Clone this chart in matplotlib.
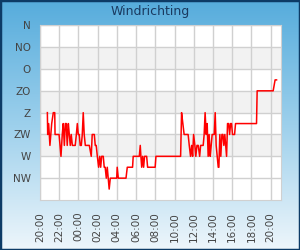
import matplotlib
matplotlib.use('Agg')
import matplotlib.pyplot as plt
import numpy as np
from matplotlib.colors import LinearSegmentedColormap
from matplotlib.patches import Rectangle


# minutes after 20:00 and wind direction level (NW=1 ... N=8)
minutes = [46, 48, 54, 62, 73, 83, 92, 94, 119, 131, 139, 145, 152, 158, 164, 170,
           177, 183, 189, 195, 202, 220, 227, 233, 239, 245, 251, 258, 264, 270, 276, 283,
           308, 320, 326, 339, 345, 351, 358, 366, 373, 379, 385, 395, 401, 407, 414, 420,
           426, 432, 439, 479, 482, 489, 537, 545, 578, 582, 620, 626, 630, 635, 641, 647,
           653, 666, 672, 719, 724, 878, 884, 892, 900, 925, 932, 940, 947, 953, 959, 967,
           973, 980, 988, 997, 1003, 1019, 1025, 1031, 1038, 1044, 1050, 1056, 1063, 1069, 1075, 1088,
           1094, 1100, 1113, 1117, 1123, 1129, 1136, 1142, 1148, 1154, 1165, 1171, 1178, 1184, 1190, 1196,
           1202, 1215, 1221, 1352, 1356, 1456, 1468, 1477]
direction = [4, 3, 3.5, 2.5, 3.5, 4, 4, 3, 3, 2, 3, 3.5, 2.5, 3.5, 3.5, 2.5,
             3.5, 3, 2.5, 3, 2.5, 2.5, 3, 3.5, 3, 3, 2.5, 2.5, 3, 4, 3, 2.5,
             2.5, 2, 3, 3, 2.5, 2.5, 2, 1.5, 2, 1.5, 2, 2, 1.5, 1.5, 1, 1.5,
             1, 0.5, 1, 1, 1.5, 1, 1, 1.5, 1.5, 2, 2, 2.5, 2, 1.5, 2, 1.5,
             2, 2, 1.5, 1.5, 2, 2, 4, 3.5, 3, 3, 2.5, 2, 2.5, 2, 3, 2.5,
             2, 2.5, 2.5, 2, 2.5, 2.5, 3, 4, 3, 3.5, 2, 3, 2, 2.5, 3, 3,
             4, 2.5, 1.5, 1.5, 3, 2, 3, 3, 2.5, 3, 2, 3.5, 3.5, 3, 3.5, 3.5,
             3, 3, 3.5, 3.5, 5, 5, 5.5, 5.5]

y_labels = ['NW', 'W', 'ZW', 'Z', 'ZO', 'O', 'NO', 'N']
x_labels = ['20:00', '22:00', '00:00', '02:00', '04:00', '06:00', '08:00',
            '10:00', '12:00', '14:00', '16:00', '18:00', '20:00']

fig = plt.figure(figsize = (3, 2.5), dpi = 100)

# background gradient
bg = fig.add_axes([0, 0, 1, 1], zorder = -5)
cmap = LinearSegmentedColormap.from_list('bg', ['#56acdc', '#9dd0ec', '#eef6fb'])
bg.imshow(np.linspace(0, 1, 256).reshape(-1, 1), aspect = 'auto', cmap = cmap,
          extent = [0, 1, 0, 1])
bg.axis('off')
fig.patches.append(Rectangle((0, 0), 1, 1, transform = fig.transFigure, fill = False,
                             edgecolor = '#0d3b66', linewidth = 2.5))

ax = fig.add_axes([40 / 300, 50 / 250, 240.7 / 300, 174.7 / 250])
ax.set_facecolor('white')
for lo in [2, 4, 6]:
    ax.axhspan(lo, lo + 1, color = '#f2f2f2', zorder = 0, linewidth = 0)

ax.plot(minutes, direction, color = '#ff0000', linewidth = 1.1, zorder = 3)

ax.set_xlim(0, 1503)
ax.set_ylim(0, 8)
ax.set_xticks(np.arange(len(x_labels)) * 120)
ax.set_xticklabels(x_labels, rotation = 90, fontsize = 7.5, color = '#444444')
ax.set_yticks(np.arange(1, len(y_labels) + 1))
ax.set_yticklabels(y_labels, fontsize = 7.5, color = '#444444')
ax.tick_params(axis = 'x', length = 0, pad = 8.5)
ax.tick_params(axis = 'y', length = 0, pad = 6.5)
ax.grid(True, color = '#d0d0d0', linewidth = 1, zorder = 1)
ax.set_axisbelow(True)
for s in ax.spines.values():
    s.set_color('#d0d0d0')

fig.text(0.5, 1 - 12 / 250, 'Windrichting', ha = 'center', va = 'center',
         fontsize = 9, color = '#1a3a60')

fig.savefig('out.png', dpi = 100)
